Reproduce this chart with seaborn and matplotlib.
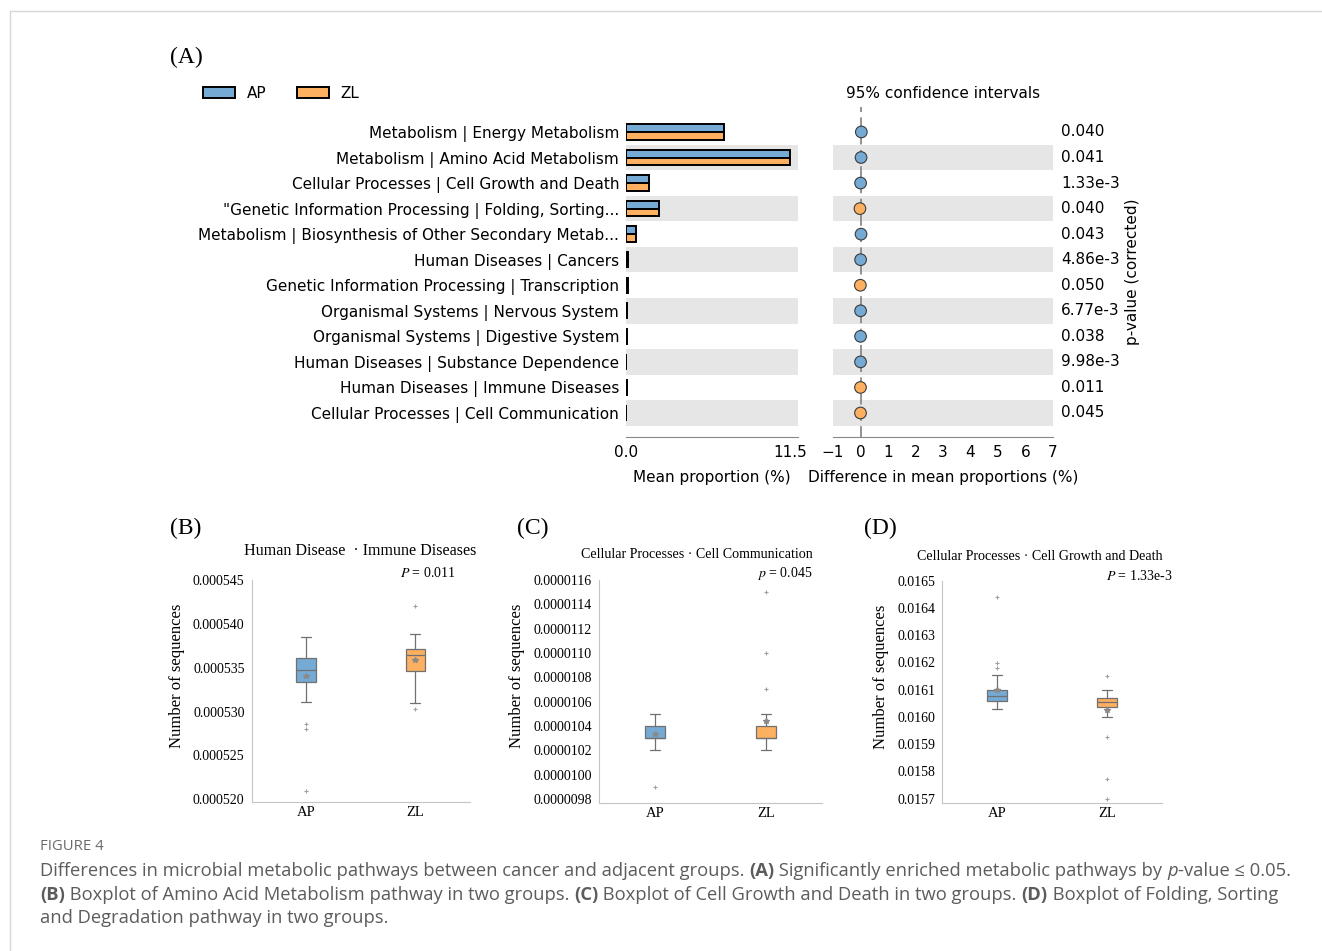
import numpy as np
import pandas as pd
import matplotlib
matplotlib.use("Agg")
import matplotlib.pyplot as plt
import matplotlib.transforms as mtransforms
from matplotlib.patches import Patch
from matplotlib.lines import Line2D
import seaborn as sns

# ---------------------------------------------------------------- data
groups = ["AP", "ZL"]

pathways = [
    "Metabolism | Energy Metabolism",
    "Metabolism | Amino Acid Metabolism",
    "Cellular Processes | Cell Growth and Death",
    "\"Genetic Information Processing | Folding, Sorting...",
    "Metabolism | Biosynthesis of Other Secondary Metab...",
    "Human Diseases | Cancers",
    "Genetic Information Processing | Transcription",
    "Organismal Systems | Nervous System",
    "Organismal Systems | Digestive System",
    "Human Diseases | Substance Dependence",
    "Human Diseases | Immune Diseases",
    "Cellular Processes | Cell Communication",
]
# mean proportion (%) per group
mean_ap = [6.90, 11.50, 1.610, 2.31, 0.72, 0.152, 0.140, 0.085, 0.080, 0.031, 0.0534, 0.00103]
mean_zl = [6.87, 11.48, 1.606, 2.33, 0.70, 0.148, 0.145, 0.082, 0.078, 0.029, 0.0536, 0.00104]
p_values = ["0.040", "0.041", "1.33e-3", "0.040", "0.043", "4.86e-3",
            "0.050", "6.77e-3", "0.038", "9.98e-3", "0.011", "0.045"]

# per-sample relative abundances for the three boxplots
immune_ap = [0.0005209, 0.0005280, 0.0005286, 0.0005311, 0.0005330, 0.0005334,
             0.0005340, 0.0005343, 0.0005345, 0.0005347, 0.0005348, 0.0005350,
             0.0005353, 0.0005356, 0.0005359, 0.0005361, 0.0005374, 0.0005379,
             0.0005382, 0.0005384, 0.0005385]
immune_zl = [0.0005303, 0.0005310, 0.0005325, 0.0005335, 0.0005342, 0.0005346,
             0.0005352, 0.0005357, 0.0005361, 0.0005363, 0.0005365, 0.0005366,
             0.0005367, 0.0005368, 0.0005370, 0.0005371, 0.0005374, 0.0005378,
             0.0005383, 0.0005388, 0.0005420]
comm_ap = [0.0000099, 0.0000102, 0.0000102, 0.0000103, 0.0000103, 0.0000103,
           0.0000103, 0.0000103, 0.0000103, 0.0000103, 0.0000103, 0.0000104,
           0.0000104, 0.0000104, 0.0000104, 0.0000104, 0.0000104, 0.0000104,
           0.0000105, 0.0000105, 0.0000105]
comm_zl = [0.0000102, 0.0000102, 0.0000103, 0.0000103, 0.0000103, 0.0000103,
           0.0000103, 0.0000103, 0.0000103, 0.0000103, 0.0000103, 0.0000104,
           0.0000104, 0.0000104, 0.0000104, 0.0000104, 0.0000105, 0.0000105,
           0.0000107, 0.0000110, 0.0000115]
growth_ap = [0.016028, 0.016030, 0.016033, 0.016045, 0.016055, 0.016060,
             0.016061, 0.016062, 0.016063, 0.016065, 0.016076, 0.016077,
             0.016078, 0.016080, 0.016085, 0.016100, 0.016102, 0.016153,
             0.016178, 0.016199, 0.016439]
growth_zl = [0.015700, 0.015773, 0.015926, 0.016001, 0.016020, 0.016036,
             0.016040, 0.016045, 0.016048, 0.016051, 0.016054, 0.016057,
             0.016060, 0.016063, 0.016067, 0.016071, 0.016078, 0.016085,
             0.016092, 0.016098, 0.016150]

# ---------------------------------------------------------------- style
W, H = 1322, 951
sns.set_style("white")
plt.rcParams["font.family"] = ["DejaVu Sans"]
plt.rcParams["mathtext.fontset"] = "stix"
plt.rcParams["text.color"] = "black"
plt.rcParams["axes.labelcolor"] = "black"
plt.rcParams["xtick.labelcolor"] = "black"
plt.rcParams["ytick.labelcolor"] = "black"

blue, orange = "#75aad5", "#fdb060"
palette = dict(zip(groups, [blue, orange]))
SERIF = "Liberation Serif"
SANS_SIZE = 11

fig = plt.figure(figsize=(W / 100, H / 100), dpi=100)


def fx(px):
    return px / W


def fy(py):
    return 1 - py / H


def rect(l, t, r, b):
    return [fx(l), fy(b), (r - l) / W, (b - t) / H]


n = len(pathways)
ytop, ybot = -0.977, 11.94

# ---------------------------------------------------------------- (A) mean proportions
axA = fig.add_axes(rect(626, 107, 798, 437))
dfA = pd.DataFrame({
    "pathway": pathways * 2,
    "group": ["AP"] * n + ["ZL"] * n,
    "value": mean_ap + mean_zl,
})
sns.barplot(data=dfA, x="value", y="pathway", hue="group", hue_order=groups,
            palette=palette, orient="h", width=0.6, saturation=1,
            edgecolor="black", linewidth=1.4, errorbar=None, legend=False, ax=axA)
for i in range(1, n, 2):
    axA.axhspan(i - 0.5, i + 0.5, facecolor="#e6e6e6", edgecolor="none", zorder=0)
axA.set_ylim(ybot, ytop)
axA.set_xlim(0, 11.5 * 172 / 164)
axA.set_xticks([0, 11.5])
axA.set_xticklabels(["0.0", "11.5"])
axA.tick_params(axis="x", direction="in", length=5, color="#888888", labelsize=SANS_SIZE, pad=6)
axA.tick_params(axis="y", length=0, pad=5, labelsize=SANS_SIZE)
for s in ["left", "top", "right"]:
    axA.spines[s].set_visible(False)
axA.spines["bottom"].set_color("#888888")
axA.set_ylabel("")
axA.set_xlabel("Mean proportion (%)", fontsize=SANS_SIZE, labelpad=7)

# ---------------------------------------------------------------- (A) differences / CI
axC = fig.add_axes(rect(833, 107, 1053, 437))
diff = np.array(mean_ap) - np.array(mean_zl)
dfC = pd.DataFrame({
    "row": np.arange(n),
    "diff": diff,
    "higher": np.where(diff > 0, "AP", "ZL"),
})
for i in range(1, n, 2):
    axC.axhspan(i - 0.5, i + 0.5, facecolor="#e6e6e6", edgecolor="none", zorder=0)
axC.axvline(0, color="#8a8a8a", lw=1.3, ls=(0, (6, 3)), zorder=1)
sns.scatterplot(data=dfC, x="diff", y="row", hue="higher", hue_order=groups,
                palette=palette, s=70, edgecolor="#3a3a3a", linewidth=0.8,
                legend=False, ax=axC, zorder=3)
axC.set_ylim(ybot, ytop)
axC.set_xlim(-1, 7)
axC.set_xticks(range(-1, 8))
axC.set_yticks([])
axC.tick_params(axis="x", direction="in", length=5, color="#888888", labelsize=SANS_SIZE, pad=6)
for s in ["left", "top", "right"]:
    axC.spines[s].set_visible(False)
axC.spines["bottom"].set_color("#888888")
axC.set_ylabel("")
axC.set_xlabel("Difference in mean proportions (%)", fontsize=SANS_SIZE, labelpad=7)
blend = mtransforms.blended_transform_factory(axC.transAxes, axC.transData)
for i, p in enumerate(p_values):
    axC.text(1.036, i, p, transform=blend, ha="left", va="center", fontsize=SANS_SIZE)
fig.text(fx(1133), fy(272), "p-value (corrected)", rotation=90,
         ha="center", va="center", fontsize=SANS_SIZE)
fig.text(fx(943), fy(93), "95% confidence intervals", ha="center", va="center",
         fontsize=SANS_SIZE)

handles = [Patch(facecolor=palette[g], edgecolor="black", linewidth=1.4) for g in groups]
fig.legend(handles, groups, loc="center left", bbox_to_anchor=(fx(203), fy(93)),
           ncol=2, frameon=False, borderpad=0, borderaxespad=0, handlelength=2.1,
           handleheight=0.7, handletextpad=0.75, columnspacing=2.0, fontsize=SANS_SIZE)
fig.text(fx(170), fy(57), "(A)", family=SERIF, fontsize=17, ha="left", va="center")

# ---------------------------------------------------------------- (B)-(D) boxplots
def box_panel(box, ap_vals, zl_vals, ylim, ticks, fmt):
    ax = fig.add_axes(box)
    df = pd.DataFrame({
        "group": ["AP"] * len(ap_vals) + ["ZL"] * len(zl_vals),
        "value": ap_vals + zl_vals,
    })
    sns.boxplot(data=df, x="group", y="value", hue="group", order=groups,
                hue_order=groups, palette=palette, width=0.18, saturation=1,
                linewidth=0.9, linecolor="#707070", showmeans=True,
                meanprops=dict(marker="*", markersize=4, markerfacecolor="#8a8a8a",
                               markeredgecolor="#8a8a8a"),
                flierprops=dict(marker="+", markersize=3.5, markeredgecolor="#a0a0a0",
                                markeredgewidth=0.8),
                legend=False, ax=ax)
    ax.set_xlim(-0.5, 1.5)
    ax.set_ylim(*ylim)
    ax.set_yticks(ticks)
    ax.set_yticklabels([fmt % t for t in ticks], fontfamily=SERIF, fontsize=10)
    ax.set_xticks([0, 1])
    ax.set_xticklabels(groups, fontfamily=SERIF, fontsize=10.5)
    ax.tick_params(axis="both", length=0)
    ax.tick_params(axis="y", pad=5)
    ax.tick_params(axis="x", pad=3)
    for s in ["top", "right"]:
        ax.spines[s].set_visible(False)
    for s in ["left", "bottom"]:
        ax.spines[s].set_color("#c4c4c4")
    ax.set_xlabel("")
    ax.set_ylabel("Number of sequences", fontfamily=SERIF, fontsize=12, labelpad=6, y=0.57)
    return ax


box_panel(rect(251.5, 580, 470, 802), immune_ap, immune_zl,
          (0.0005197, 0.000545), [0.000520 + 0.000005 * k for k in range(6)], "%.6f")
box_panel(rect(599, 580, 822, 803), comm_ap, comm_zl,
          (0.000009767, 0.0000116), [0.0000098 + 0.0000002 * k for k in range(10)], "%.7f")
box_panel(rect(942, 580.7, 1162, 803.3), growth_ap, growth_zl,
          (0.015683, 0.0165), [0.0157 + 0.0001 * k for k in range(9)], "%.4f")

fig.text(fx(170), fy(528), "(B)", family=SERIF, fontsize=17, ha="left", va="center")
fig.text(fx(517), fy(528), "(C)", family=SERIF, fontsize=17, ha="left", va="center")
fig.text(fx(864), fy(528), "(D)", family=SERIF, fontsize=17, ha="left", va="center")

fig.text(fx(360), fy(551), "Human Disease  · Immune Diseases", family=SERIF,
         fontsize=11.6, ha="center", va="center")
fig.text(fx(697), fy(555), "Cellular Processes · Cell Communication", family=SERIF,
         fontsize=10.1, ha="center", va="center")
fig.text(fx(1040), fy(557), "Cellular Processes · Cell Growth and Death", family=SERIF,
         fontsize=10.1, ha="center", va="center")
fig.text(fx(428), fy(573), "$P$ = 0.011", family=SERIF, fontsize=10, ha="center", va="center")
fig.text(fx(785), fy(573), "$p$ = 0.045", family=SERIF, fontsize=10, ha="center", va="center")
fig.text(fx(1139), fy(576), "$P$ = 1.33e-3", family=SERIF, fontsize=10, ha="center", va="center")

# ---------------------------------------------------------------- caption
CAP = ["Open Sans", "DejaVu Sans"]
cap_color = "#5c5c5c"
cap_size = 13.2
renderer = fig.canvas.get_renderer()


def advance(text, **kw):
    a = fig.text(0, 0, "|" + text + "|", **kw)
    b = fig.text(0, 0, "||", **kw)
    w = a.get_window_extent(renderer).width - b.get_window_extent(renderer).width
    a.remove()
    b.remove()
    return w


def rich_line(x_px, y_px, runs):
    x = x_px
    for text, weight, style in runs:
        kw = dict(family=CAP, fontsize=cap_size, color=cap_color,
                  fontweight=weight, fontstyle=style)
        fig.text(fx(x), fy(y_px), text, ha="left", va="center", **kw)
        x += advance(text, **kw)


fig.text(fx(40), fy(847), "FIGURE 4", family=CAP, fontsize=10.7, color="#6a6a6a",
         ha="left", va="center")
rich_line(40, 871, [
    ("Differences in microbial metabolic pathways between cancer and adjacent groups. ", "normal", "normal"),
    ("(A)", "bold", "normal"),
    (" Significantly enriched metabolic pathways by ", "normal", "normal"),
    ("p", "normal", "italic"),
    ("-value ≤ 0.05.", "normal", "normal"),
])
rich_line(40, 895, [
    ("(B)", "bold", "normal"),
    (" Boxplot of Amino Acid Metabolism pathway in two groups. ", "normal", "normal"),
    ("(C)", "bold", "normal"),
    (" Boxplot of Cell Growth and Death in two groups. ", "normal", "normal"),
    ("(D)", "bold", "normal"),
    (" Boxplot of Folding, Sorting", "normal", "normal"),
])
rich_line(40, 918, [
    ("and Degradation pathway in two groups.", "normal", "normal"),
])

# page frame
fig.add_artist(Line2D([fx(10), 1], [fy(11), fy(11)], color="#d6d6d6", lw=1,
                      transform=fig.transFigure))
fig.add_artist(Line2D([fx(10), fx(10)], [0, fy(11)], color="#d6d6d6", lw=1,
                      transform=fig.transFigure))

fig.savefig("out.png", dpi=100)
